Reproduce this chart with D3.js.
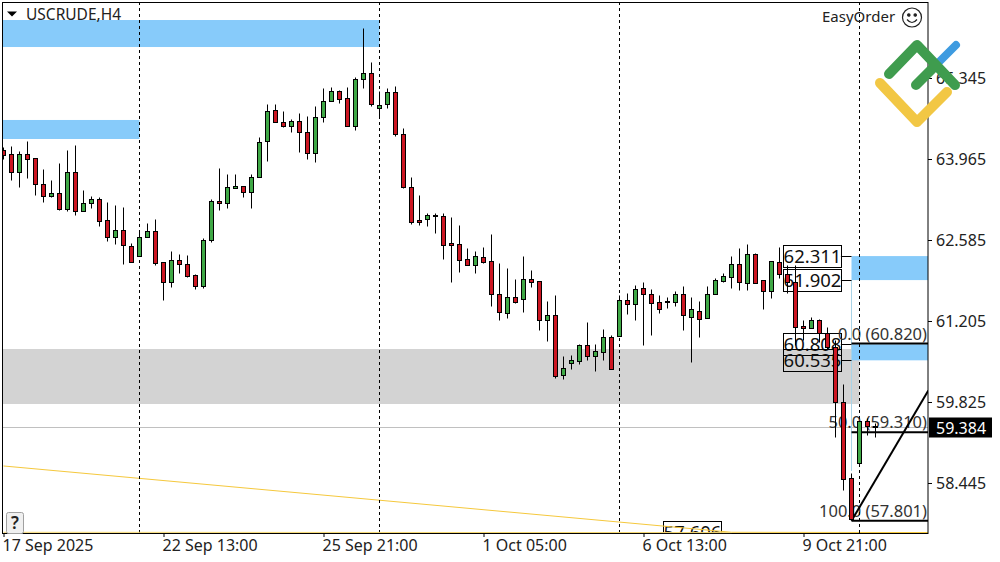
<!DOCTYPE html>
<html>
<head>
<meta charset="utf-8">
<style>
  html, body { margin: 0; padding: 0; background: #fff; }
  svg { display: block; font-family: "Noto Sans", sans-serif; }
  .axis text { font-size: 16px; fill: #222; font-family: "Noto Sans", sans-serif; }
  .axis line { stroke: #000; }
</style>
</head>
<body>
<div id="chart"></div>
<script src="https://cdnjs.cloudflare.com/ajax/libs/d3/7.8.5/d3.min.js"></script>
<script>
// H4 candles
const opens = [64.118,64.050,63.727,64.050,63.982,63.539,63.318,63.369,63.113,63.727,
  63.079,63.199,63.267,62.909,62.636,62.755,62.466,62.296,62.636,62.738,
  62.210,61.853,62.244,62.176,61.972,61.801,62.585,63.233,63.199,63.454,
  63.505,63.386,63.658,64.255,64.783,64.579,64.527,64.596,64.425,64.067,
  64.664,64.953,65.107,65.004,64.527,65.328,65.430,64.834,64.902,65.090,
  64.391,63.488,62.909,62.926,62.977,62.977,62.517,62.500,62.261,62.159,
  62.279,62.227,61.665,61.341,61.597,61.563,61.904,61.870,61.205,61.307,
  60.268,60.473,60.507,60.796,60.592,60.660,60.932,60.949,61.546,61.478,
  61.767,61.665,61.512,61.529,61.512,61.665,61.273,61.375,61.256,61.648,
  61.870,61.938,62.176,61.836,62.330,61.887,61.716,62.210,61.989,61.853,
  61.103,61.069,61.205,60.984,60.745,59.808,58.530,58.769,59.501,59.399];
const highs = [64.153,64.170,64.101,64.255,63.982,63.778,63.607,63.880,64.118,64.187,
  63.420,63.318,63.301,63.216,63.181,63.147,62.517,62.755,62.858,62.926,
  62.210,62.381,62.330,62.313,61.989,62.619,63.267,63.795,63.709,63.709,
  63.505,63.709,64.323,64.902,64.902,64.766,64.630,64.732,64.681,64.868,
  65.158,65.175,65.124,65.175,65.362,66.197,65.601,65.107,65.158,65.192,
  64.493,63.658,63.335,63.045,63.045,63.045,62.960,62.824,62.432,62.381,
  62.449,62.687,62.193,62.091,61.904,62.296,62.057,61.870,61.529,61.631,
  60.592,60.609,60.813,61.171,60.813,61.052,60.966,61.631,61.682,61.818,
  61.853,61.750,61.631,61.597,61.716,61.801,61.597,61.529,61.801,61.921,
  62.006,62.296,62.432,62.500,62.347,61.887,62.227,62.449,62.159,62.159,
  61.205,61.273,61.239,61.086,60.881,60.115,58.615,59.501,59.552,59.467];
const lows = [63.965,63.607,63.488,63.641,63.335,63.216,63.301,63.096,63.079,62.994,
  63.079,63.130,62.807,62.551,62.500,62.176,62.210,62.296,62.636,62.159,
  61.546,61.784,62.006,61.938,61.750,61.767,62.534,63.096,63.130,63.454,
  63.301,63.130,63.658,63.931,64.579,64.510,64.425,64.084,63.965,63.897,
  64.579,64.953,64.919,64.527,64.459,65.158,64.868,64.664,64.817,64.340,
  63.454,62.841,62.824,62.807,62.704,62.261,61.853,62.023,62.159,62.006,
  62.193,61.444,61.205,61.256,61.495,61.358,61.784,61.035,60.864,60.217,
  60.200,60.387,60.456,60.524,60.353,60.524,60.387,60.949,61.324,61.205,
  60.796,60.966,61.341,61.410,61.444,61.035,60.490,60.916,61.256,61.648,
  61.853,61.767,61.733,61.733,61.836,61.393,61.580,61.921,61.682,60.796,
  60.881,61.069,60.847,60.711,59.212,58.309,57.801,58.769,59.246,59.212];
const closes = [64.033,63.727,64.050,63.965,63.539,63.318,63.369,63.113,63.727,63.079,
  63.199,63.267,62.892,62.636,62.755,62.483,62.210,62.636,62.738,62.193,
  61.853,62.244,62.176,61.955,61.801,62.585,63.233,63.199,63.471,63.505,
  63.386,63.658,64.238,64.766,64.579,64.527,64.596,64.425,64.067,64.664,
  64.953,65.107,64.987,64.527,65.328,65.430,64.902,64.885,65.090,64.374,
  63.488,62.875,62.875,62.994,62.994,62.483,62.483,62.244,62.159,62.296,
  62.210,61.648,61.358,61.597,61.512,61.904,61.853,61.205,61.307,60.251,
  60.404,60.524,60.796,60.592,60.677,60.932,60.387,61.546,61.478,61.750,
  61.665,61.495,61.393,61.512,61.665,61.307,61.393,61.239,61.648,61.887,
  61.955,62.176,61.853,62.330,61.836,61.716,62.227,61.989,61.853,61.086,
  61.069,61.205,60.984,60.745,59.808,58.513,57.815,59.501,59.399,59.384];

const priceTicks = [65.345, 63.965, 62.585, 61.205, 59.825, 58.445];
const timeBars = [0, 20, 40, 60, 80, 100];
const timeLabels = ["17 Sep 2025", "22 Sep 13:00", "25 Sep 21:00", "1 Oct 05:00", "6 Oct 13:00", "9 Oct 21:00"];
const separatorBars = [17, 47, 77, 107];

// rectangles on the chart
const zoneStart = [-1, -1, -1, 106, 106];
const zoneEnd = [47, 17, 107, 120, 120];
const zoneTop = [66.333, 64.630, 60.728, 62.311, 60.808];
const zoneBottom = [65.873, 64.306, 59.791, 61.902, 60.535];
const zoneKind = ["blue", "blue", "gray", "blue", "blue"];

// fibonacci levels
const fibLevels = ["0.0", "50.0", "100.0"];
const fibPrices = [60.820, 59.310, 57.801];
const fibBar = 106;
const fibTrendBars = [106, 115.6];
const fibTrendPrices = [57.801, 60.02];
const fibGuidePrices = [61.902, 58.65];

// level price tags
const tagPrices = [62.311, 61.902, 60.808, 60.535, 57.606];
const tagEndBars = [104.8, 104.8, 104.8, 104.8, 89.8];

const goldBars = [0, 91, 120];
const goldPrices = [58.735, 57.605, 57.6];
const lastPrice = 59.384;

const width = 1000, height = 562;
const margin = { top: 2, right: 72, bottom: 29, left: 2 };
const plotRight = width - margin.right, plotBottom = height - margin.bottom;

const xScale = d3.scaleLinear().domain([0, 109]).range([3.5, 875.5]);
const yScale = d3.scaleLinear().domain([66.640, 57.593]).range([margin.top, plotBottom]);
const snap = v => Math.round(v) + 0.5;
const px = i => snap(xScale(i) - 0.5);
const py = p => snap(yScale(p) - 0.5);

const svg = d3.select("#chart").append("svg")
  .attr("width", width)
  .attr("height", height);

svg.append("defs").append("clipPath").attr("id", "plot-clip")
  .append("rect")
  .attr("x", margin.left)
  .attr("y", margin.top)
  .attr("width", plotRight - margin.left)
  .attr("height", plotBottom - margin.top);

const plot = svg.append("g").attr("clip-path", "url(#plot-clip)");

// zones
plot.selectAll(".zone")
  .data(zoneTop.map((t, i) => i))
  .enter().append("rect")
  .attr("class", "zone")
  .attr("x", i => Math.max(margin.left, xScale(zoneStart[i])))
  .attr("y", i => yScale(zoneTop[i]))
  .attr("width", i => Math.min(plotRight, xScale(zoneEnd[i])) - Math.max(margin.left, xScale(zoneStart[i])))
  .attr("height", i => yScale(zoneBottom[i]) - yScale(zoneTop[i]))
  .attr("fill", i => zoneKind[i] === "gray" ? "#d3d3d3" : "#87cbfa");

// last price line
plot.append("line")
  .attr("x1", margin.left).attr("x2", plotRight)
  .attr("y1", py(lastPrice)).attr("y2", py(lastPrice))
  .attr("stroke", "#c0c0c0");

// fib guide
plot.append("line")
  .attr("x1", px(fibBar)).attr("x2", px(fibBar))
  .attr("y1", yScale(fibGuidePrices[0])).attr("y2", yScale(fibGuidePrices[1]))
  .attr("stroke", "#a9d3e6");

// price tags, behind the candles
const tags = plot.selectAll(".tag")
  .data(tagPrices.map((t, i) => i))
  .enter().append("g")
  .attr("class", "tag");

tags.append("line")
  .attr("x1", i => xScale(tagEndBars[i]) - 1)
  .attr("x2", i => xScale(fibBar))
  .attr("y1", i => py(tagPrices[i]))
  .attr("y2", i => py(tagPrices[i]))
  .attr("stroke", i => tagPrices[i] < 58 ? "none" : "#000");

tags.append("rect")
  .attr("x", i => snap(xScale(tagEndBars[i]) - 1) - 58)
  .attr("y", i => py(tagPrices[i]) - 11)
  .attr("width", 58)
  .attr("height", 22)
  .attr("fill", "none")
  .attr("stroke", "#000");

tags.append("text")
  .attr("x", i => snap(xScale(tagEndBars[i]) - 1) - 29)
  .attr("y", i => py(tagPrices[i]) + 6.5)
  .attr("text-anchor", "middle")
  .style("font-size", "18.5px")
  .attr("fill", "#111")
  .text(i => d3.format(".3f")(tagPrices[i]));

// fib levels
plot.selectAll(".fib-line")
  .data(fibPrices)
  .enter().append("line")
  .attr("class", "fib-line")
  .attr("x1", xScale(fibBar))
  .attr("x2", plotRight)
  .attr("y1", d => yScale(d))
  .attr("y2", d => yScale(d))
  .attr("stroke", "#000")
  .attr("stroke-width", 2);

plot.selectAll(".fib-label")
  .data(fibPrices)
  .enter().append("text")
  .attr("class", "fib-label")
  .attr("x", plotRight - 1)
  .attr("y", d => yScale(d) - 4)
  .attr("text-anchor", "end")
  .style("font-size", "16.5px")
  .attr("fill", "#333")
  .text((d, i) => `${fibLevels[i]} (${d3.format(".3f")(d)})`);

plot.append("line")
  .attr("x1", xScale(fibTrendBars[0]))
  .attr("x2", xScale(fibTrendBars[1]))
  .attr("y1", yScale(fibTrendPrices[0]))
  .attr("y2", yScale(fibTrendPrices[1]))
  .attr("stroke", "#000")
  .attr("stroke-width", 2);

// gold trend line
plot.append("path")
  .attr("d", d3.line().x((d, i) => xScale(goldBars[i])).y(d => yScale(d))(goldPrices))
  .attr("fill", "none")
  .attr("stroke", "#f5c83c")
  .attr("stroke-width", 1);

// period separators
plot.selectAll(".separator")
  .data(separatorBars)
  .enter().append("line")
  .attr("class", "separator")
  .attr("x1", d => px(d)).attr("x2", d => px(d))
  .attr("y1", margin.top).attr("y2", plotBottom)
  .attr("stroke", "#000")
  .attr("stroke-dasharray", "3,3");

// candles
const candles = plot.selectAll(".candle")
  .data(opens.map((o, i) => i))
  .enter().append("g")
  .attr("class", "candle");

candles.append("line")
  .attr("x1", i => px(i)).attr("x2", i => px(i))
  .attr("y1", i => py(highs[i]))
  .attr("y2", i => py(lows[i]))
  .attr("stroke", "#000");

candles.append("rect")
  .attr("x", i => px(i) - 2)
  .attr("y", i => py(Math.max(opens[i], closes[i])))
  .attr("width", 4)
  .attr("height", i => py(Math.min(opens[i], closes[i])) - py(Math.max(opens[i], closes[i])))
  .attr("fill", i => closes[i] >= opens[i] ? "#3fa846" : "#cc1622")
  .attr("stroke", "#000");

// frame
svg.append("rect")
  .attr("x", margin.left + 0.5)
  .attr("y", margin.top + 0.5)
  .attr("width", plotRight - margin.left - 0.5)
  .attr("height", plotBottom - margin.top)
  .attr("fill", "none")
  .attr("stroke", "#000");

// gold line over the bottom frame
svg.append("path")
  .attr("d", d3.line().x((d, i) => Math.min(plotRight, xScale(goldBars[i]))).y(d => yScale(d))(goldPrices.slice(1)))
  .attr("fill", "none")
  .attr("stroke", "#f5d76e")
  .attr("stroke-width", 1);

// axes
const yAxis = d3.axisRight(yScale)
  .tickValues(priceTicks)
  .tickSize(4)
  .tickPadding(4)
  .tickFormat(d3.format(".3f"));

svg.append("g")
  .attr("class", "axis")
  .attr("transform", `translate(${plotRight},0)`)
  .call(yAxis)
  .call(g => g.select(".domain").remove());

const xAxis = d3.axisBottom(xScale)
  .tickValues(timeBars)
  .tickSize(4)
  .tickPadding(3)
  .tickFormat((d, i) => timeLabels[i]);

svg.append("g")
  .attr("class", "axis")
  .attr("transform", `translate(0,${plotBottom})`)
  .call(xAxis)
  .call(g => g.select(".domain").remove())
  .call(g => g.selectAll("text").attr("text-anchor", "start").attr("x", -1.5));

// last price tag
svg.append("rect")
  .attr("x", plotRight + 1)
  .attr("y", py(lastPrice) - 10)
  .attr("width", 63)
  .attr("height", 20)
  .attr("fill", "#000");

svg.append("text")
  .attr("x", plotRight + 8)
  .attr("y", py(lastPrice) + 6)
  .style("font-size", "16px")
  .attr("fill", "#fff")
  .text(d3.format(".3f")(lastPrice));

// header
svg.append("path")
  .attr("d", "M7,11.5H17L12,16.5Z")
  .attr("fill", "#000");

svg.append("text")
  .attr("x", 26)
  .attr("y", 20)
  .style("font-size", "15.5px")
  .attr("fill", "#222")
  .text("USCRUDE,H4");

svg.append("text")
  .attr("x", 822)
  .attr("y", 22)
  .style("font-size", "15px")
  .attr("fill", "#222")
  .text("EasyOrder");

// smiley
const smiley = svg.append("g").attr("transform", "translate(912,17.5)")
  .attr("fill", "none").attr("stroke", "#222").attr("stroke-width", 1.2);
smiley.append("circle").attr("r", 9.5);
smiley.append("circle").attr("cx", -3.2).attr("cy", -2.5).attr("r", 1.2).attr("fill", "#222");
smiley.append("circle").attr("cx", 3.2).attr("cy", -2.5).attr("r", 1.2).attr("fill", "#222");
smiley.append("path").attr("d", "M-5,2 Q0,8 5,2");

// help button
svg.append("rect")
  .attr("x", 6.5).attr("y", 512.5)
  .attr("width", 17).attr("height", 21)
  .attr("rx", 2)
  .attr("fill", "#f0f0f0")
  .attr("stroke", "#a0a0a0");

svg.append("text")
  .attr("x", 15).attr("y", 529)
  .attr("text-anchor", "middle")
  .style("font-size", "17px")
  .style("font-weight", "600")
  .attr("fill", "#222")
  .text("?");

// logo
const logo = svg.append("g")
  .attr("fill", "none")
  .attr("stroke-linecap", "round")
  .attr("stroke-linejoin", "round");
logo.append("path").attr("d", "M956,45L935,66").attr("stroke", "#3e9be0").attr("stroke-width", 8);
logo.append("path").attr("d", "M880,83L917,122L947,92").attr("stroke", "#f2c744").attr("stroke-width", 10);
logo.append("path").attr("d", "M889,74L917,45L955,85M916,85L936,65").attr("stroke", "#3f9c4e").attr("stroke-width", 10);
</script>
</body>
</html>
